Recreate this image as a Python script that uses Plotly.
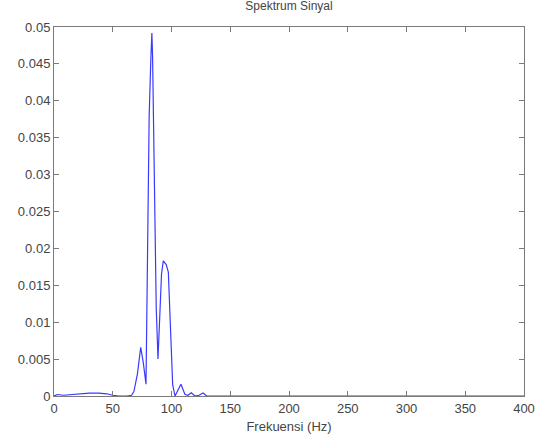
import plotly.graph_objects as go

freq = [0, 3, 8, 15, 22, 30, 38, 45, 50, 55, 62, 66, 68, 71, 73.8, 76, 78.3,
        80.0, 81.0, 82.4, 83.3, 83.9, 84.6, 85.8, 87.0, 88.5, 90.0, 91.5, 93.0,
        95.5, 97.3, 99.0, 101.0, 103.0, 105.0, 108.0, 111.5, 114.0, 116.8,
        120.0, 123.5, 126.8, 130.0, 135.0, 200.0, 300.0, 400.0]
amp = [0.0, 0.0002, 0.0001, 0.0002, 0.0003, 0.0004, 0.0004, 0.0003, 0.0001, 0.0, 0.0, 0.0001, 0.0006,
       0.003, 0.0066, 0.0045, 0.0016,
       0.026, 0.038, 0.0456, 0.0492, 0.046, 0.038, 0.022, 0.012, 0.005, 0.011, 0.0165, 0.0183,
       0.0178, 0.0168, 0.009, 0.0015, 0.0, 0.0006, 0.0016, 0.0002, 0.0001, 0.00045,
       0.0, 0.0001, 0.0004, 0.0, 0.0, 0.0, 0.0, 0.0]

x_ticks = [0, 50, 100, 150, 200, 250, 300, 350, 400]
y_ticks = [0, 0.005, 0.01, 0.015, 0.02, 0.025, 0.03, 0.035, 0.04, 0.045, 0.05]
y_tick_text = ["0", "0.005", "0.01", "0.015", "0.02", "0.025", "0.03", "0.035", "0.04", "0.045", "0.05"]

FONT = "Liberation Sans, Arial"
TXT = "#444444"

fig = go.Figure()
fig.add_trace(go.Scatter(x=freq, y=amp, mode="lines",
                         line=dict(color="#3a3aff", width=1.2), showlegend=False))

axis_common = dict(showgrid=False, zeroline=False, showline=True, linecolor="#7a7a7a",
                   linewidth=1, mirror="ticks", ticks="inside", ticklen=5,
                   tickcolor="#7a7a7a", tickfont=dict(family=FONT, size=13, color=TXT))

fig.update_layout(
    width=539, height=438,
    margin=dict(l=54, r=15, t=27, b=42, autoexpand=False),
    paper_bgcolor="white", plot_bgcolor="white",
    title=dict(text="Spektrum Sinyal", x=(54 + 524) / 2 / 539, xanchor="center", xref="container",
               y=1, yanchor="top", yref="container", pad=dict(t=2),
               font=dict(family=FONT, size=12, color=TXT)),
    xaxis=dict(range=[0, 400], tickvals=x_ticks, ticktext=[str(v) for v in x_ticks],
               title=dict(text="Frekuensi (Hz)", standoff=7,
                          font=dict(family=FONT, size=13, color=TXT)),
               **axis_common),
    yaxis=dict(range=[0, 0.05], tickvals=y_ticks, ticktext=y_tick_text, **axis_common),
)

fig.write_html("out.html", config={"displayModeBar": False},
               post_script="document.body.style.margin='0';document.body.style.overflow='hidden';")
